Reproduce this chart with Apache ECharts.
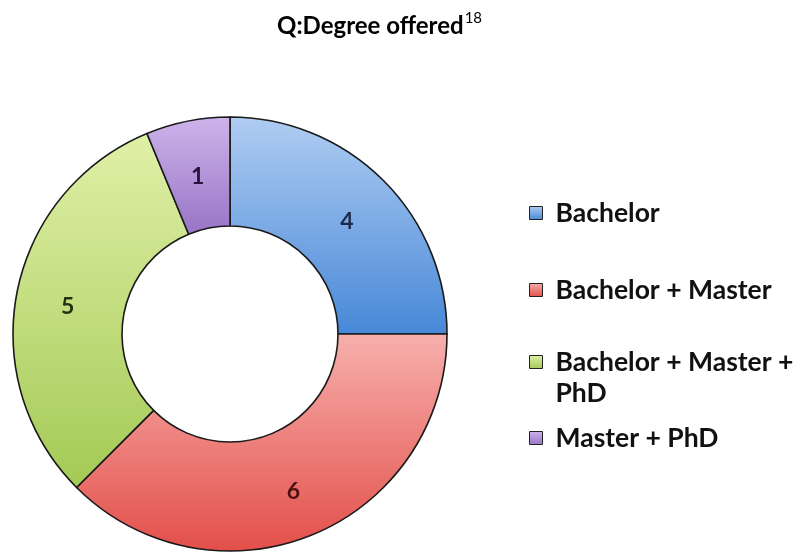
<!DOCTYPE html>
<html>
<head>
<meta charset="utf-8">
<script src="https://cdn.jsdelivr.net/npm/echarts@6/dist/echarts.min.js"></script>
<style>
html,body{margin:0;padding:0;background:#fff;}
#chart{width:799px;height:552px;}
</style>
</head>
<body>
<div id="chart"></div>
<script>
// ---- data ----
const titleText = 'Q:Degree offered';
const titleSup = '18';
const categories = ['Bachelor', 'Bachelor + Master', 'Bachelor + Master + PhD', 'Master + PhD'];
const values = [4, 6, 5, 1];

// ---- styles ----
const gradTop = ['#b0cdf2', '#f7b0ad', '#e0f0a8', '#cdb4ea'];
const gradBottom = ['#4788d8', '#e34f4a', '#a4ca55', '#9874c6'];
const labelColors = ['#1c2b4a', '#4a1010', '#253010', '#24143c'];
const legendTops = [197.5, 274.5, 315.5, 422.5];
const FONT = 'Lato, "Open Sans", sans-serif';

function grad(i) {
  return new echarts.graphic.LinearGradient(0, 0, 0, 1, [
    { offset: 0, color: gradTop[i] },
    { offset: 1, color: gradBottom[i] }
  ]);
}

const chart = echarts.init(document.getElementById('chart'), null, { renderer: 'canvas' });

const legends = categories.map((name, i) => {
  const multi = name === 'Bachelor + Master + PhD';
  return {
    orient: 'vertical',
    left: 529,
    top: legendTops[i],
    padding: 0,
    data: [name],
    icon: 'rect',
    itemWidth: 13,
    itemHeight: 13,
    itemStyle: { borderColor: '#222', borderWidth: 1 },
    selectedMode: false,
    // the wrapped item keeps its first line level with the icon (empty line above balances the one below)
    formatter: function (n) { return multi ? '\n' + n.replace(' + PhD', ' +\nPhD') : n; },
    textStyle: {
      fontFamily: FONT,
      fontWeight: 'bold',
      fontSize: 26.5,
      lineHeight: 31,
      color: '#111',
      padding: [0, 0, 0, 8]
    }
  };
});

const option = {
  backgroundColor: '#ffffff',
  animation: false,
  title: {
    text: '{a|' + titleText + '}{b|' + titleSup + '}',
    left: 277,
    top: 11,
    padding: 0,
    textStyle: {
      rich: {
        a: { fontFamily: FONT, fontWeight: 'bold', fontSize: 24, lineHeight: 30, color: '#000' },
        b: { fontFamily: FONT, fontWeight: 'normal', fontSize: 15, lineHeight: 16, verticalAlign: 'top', color: '#000', padding: [0, 0, 0, 1] }
      }
    }
  },
  legend: legends,
  series: [{
    type: 'pie',
    center: [230, 334],
    radius: [108, 217],
    startAngle: 90,
    clockwise: true,
    avoidLabelOverlap: false,
    label: {
      show: true,
      position: 'inside',
      formatter: '{c}',
      fontFamily: FONT,
      fontWeight: 'bold',
      fontSize: 23,
      offset: [0, 5]
    },
    labelLine: { show: false },
    emphasis: { disabled: true },
    itemStyle: { borderColor: '#1a1a1a', borderWidth: 1.6 },
    data: categories.map((name, i) => ({
      name: name,
      value: values[i],
      itemStyle: { color: grad(i) },
      label: { color: labelColors[i] }
    }))
  }]
};

chart.setOption(option);
</script>
</body>
</html>
